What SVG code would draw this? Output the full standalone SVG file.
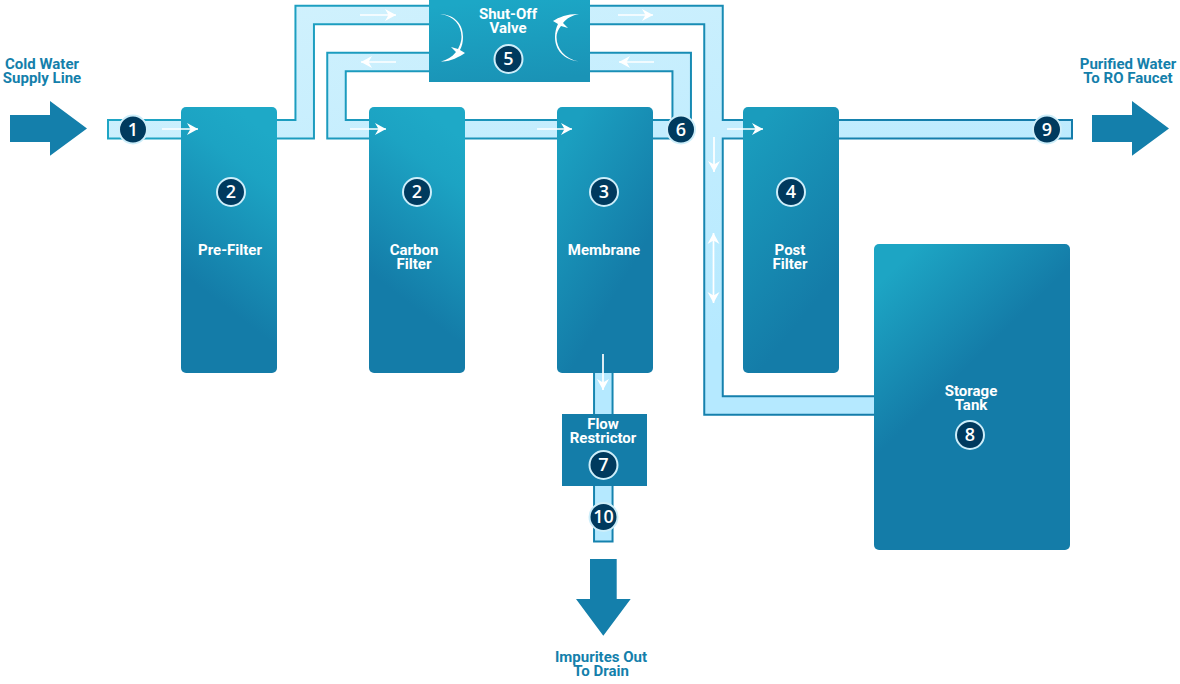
<svg xmlns="http://www.w3.org/2000/svg" width="1180" height="684" viewBox="0 0 1180 684">
<style>
.po{fill:none;stroke:url(#edge);stroke-width:20.5;stroke-linejoin:miter}
.pi{fill:none;stroke:url(#water);stroke-width:16.5;stroke-linejoin:miter}
.lb{font-family:Roboto,"Liberation Sans",sans-serif;font-weight:700;font-size:15px;text-anchor:middle;fill:#fff}
.ext{fill:#147fab}
.bd{fill:#003a5e;stroke:#cdeefa;stroke-width:2}
.hl{fill:#003a5e;stroke:#cdeefa;stroke-width:2}
.nm{font-family:"Open Sans","Liberation Sans",sans-serif;font-weight:600;font-size:18px;text-anchor:middle;fill:#fff}
.fl{fill:none;stroke:#fff;stroke-width:1.7;marker-end:url(#ah)}
</style>
<defs>
<linearGradient id="edge" gradientUnits="userSpaceOnUse" x1="100" y1="0" x2="800" y2="420"><stop offset="0" stop-color="#1fa9c7"/><stop offset="1" stop-color="#147caa"/></linearGradient>
<linearGradient id="water" gradientUnits="userSpaceOnUse" x1="300" y1="0" x2="400" y2="420"><stop offset="0" stop-color="#d0f1fd"/><stop offset="1" stop-color="#b5e9ff"/></linearGradient>
<linearGradient id="g1" x1="0.55" y1="0" x2="0.35" y2="0.72"><stop offset="0" stop-color="#1ea9c7"/><stop offset="0.25" stop-color="#1ca3c3"/><stop offset="1" stop-color="#147ca8"/></linearGradient>
<linearGradient id="g2" x1="0.3" y1="0" x2="0.7" y2="0.65"><stop offset="0" stop-color="#1b9fc0"/><stop offset="1" stop-color="#147ca8"/></linearGradient>
<linearGradient id="g3" x1="0.3" y1="0" x2="0.65" y2="0.78"><stop offset="0" stop-color="#1a9cbd"/><stop offset="1" stop-color="#147ca8"/></linearGradient>
<linearGradient id="g4" x1="0.15" y1="0.05" x2="0.4" y2="0.45"><stop offset="0" stop-color="#1da5c4"/><stop offset="1" stop-color="#147ca8"/></linearGradient>
<linearGradient id="gv" x1="0.4" y1="0" x2="0.6" y2="1"><stop offset="0" stop-color="#1ca7c6"/><stop offset="1" stop-color="#1a93b6"/></linearGradient>
<marker id="ah" markerUnits="userSpaceOnUse" markerWidth="14" markerHeight="14" refX="11" refY="6" orient="auto" overflow="visible"><path d="M0,0 L11,6 L0,12 L3.5,6 Z" fill="#fff"/></marker>
</defs>
<g id="connectors">
<path class="po" d="M107,129.3 H304.7 V15 H430"/>
<path class="po" d="M430,62 H336.5 V129.3 H681.7 V62 H590"/>
<path class="po" d="M590,15 H713.5 V405.5 H875"/>
<path class="po" d="M713.5,129.3 H1073"/>
<path class="po" d="M603.3,373 V542.5"/>
<path class="pi" d="M109,129.3 H304.7 V15 H430"/>
<path class="pi" d="M430,62 H336.5 V129.3 H681.7 V62 H590"/>
<path class="pi" d="M590,15 H713.5 V405.5 H875"/>
<path class="pi" d="M713.5,129.3 H1071"/>
<path class="pi" d="M603.3,373 V540.5"/>
</g>
<g id="ext-in"><path class="ext" d="M10,115 H50 V101 L87,128.6 L50,155.7 V142 H10 Z"/><text class="lb" x="42" y="69" fill="#147fab" style="fill:#147fab">Cold Water</text><text class="lb" x="42" y="83" style="fill:#147fab">Supply Line</text></g>
<g id="ext-out"><path class="ext" d="M1092,115 H1132 V101 L1169,128.6 L1132,155.7 V142 H1092 Z"/><text class="lb" x="1128" y="69" style="fill:#147fab">Purified Water</text><text class="lb" x="1128" y="83" style="fill:#147fab">To RO Faucet</text></g>
<g id="ext-drain"><path class="ext" d="M590,559 H616.7 V599 H630.7 L603.3,635.7 L576,599 H590 Z"/><text class="lb" x="601" y="662" style="fill:#147fab">Impurites Out</text><text class="lb" x="601" y="676" style="fill:#147fab">To Drain</text></g>
<g id="pre-filter"><rect x="181" y="107" width="96" height="266" rx="5" fill="url(#g1)"/><text class="lb" x="230" y="255">Pre-Filter</text><circle class="bd" cx="231" cy="192" r="14"/><text class="nm" x="231" y="198">2</text></g>
<g id="carbon-filter"><rect x="369" y="107" width="96" height="266" rx="5" fill="url(#g1)"/><text class="lb" x="414" y="255">Carbon</text><text class="lb" x="414" y="269">Filter</text><circle class="bd" cx="417" cy="192" r="14"/><text class="nm" x="417" y="198">2</text></g>
<g id="membrane"><rect x="557" y="107" width="96" height="266" rx="5" fill="url(#g2)"/><text class="lb" x="604" y="255">Membrane</text><circle class="bd" cx="604" cy="192" r="14"/><text class="nm" x="604" y="198">3</text></g>
<g id="post-filter"><rect x="743" y="107" width="96" height="266" rx="5" fill="url(#g3)"/><text class="lb" x="790" y="255">Post</text><text class="lb" x="790" y="269">Filter</text><circle class="bd" cx="791" cy="192" r="14"/><text class="nm" x="791" y="198">4</text></g>
<g id="storage-tank"><rect x="874" y="244" width="196" height="306" rx="5" fill="url(#g4)"/><text class="lb" x="971" y="396">Storage</text><text class="lb" x="971" y="410">Tank</text><circle class="bd" cx="970" cy="435" r="14"/><text class="nm" x="970" y="441">8</text></g>
<g id="shut-off-valve"><rect x="429" y="0" width="161" height="82" fill="url(#gv)"/><text class="lb" x="508" y="19">Shut-Off</text><text class="lb" x="508" y="33">Valve</text><circle class="bd" cx="508.500" cy="59" r="14"/><text class="nm" x="508.500" y="65">5</text>
<path d="M440,14 C456,15 463,25 463,37 C463,42 462,46 460,50 L465,53 C459,57 450,62 441,61.500 C447,60 452,57 456,52 L451,47 L458,49 C460,45 461.500,41 461.500,37 C461.500,25 454,16 440,14 Z" fill="#fff"/>
<path d="M579,61.500 C564,60 555,50 555,37 C555,32 556,28 558,24 L553,21 C559,17 569,13.500 579,14 C572,15.500 567,18 563,23 L568,28 L561,26 C558,30 556.500,33 556.500,37 C556.500,49 565,59 579,61.500 Z" fill="#fff"/></g>
<g id="flow-restrictor"><rect x="562" y="414" width="85" height="72" fill="#147da9"/><text class="lb" x="603" y="429">Flow</text><text class="lb" x="603" y="443">Restrictor</text><circle class="bd" cx="603.500" cy="465" r="14"/><text class="nm" x="603.500" y="471">7</text></g>
<g id="badge-1"><circle class="hl" cx="133" cy="129.500" r="14"/><text class="nm" x="133" y="135.500">1</text></g>
<g id="badge-6"><circle class="hl" cx="681" cy="129.500" r="14"/><text class="nm" x="681" y="135.500">6</text></g>
<g id="badge-9"><circle class="hl" cx="1047" cy="129.500" r="14"/><text class="nm" x="1047" y="135.500">9</text></g>
<g id="badge-10"><circle class="hl" cx="603.500" cy="517" r="14"/><text class="nm" x="603.500" y="523">10</text></g>
<g id="flow-arrows">
<path class="fl" d="M162,129 H198"/>
<path class="fl" d="M350,129 H386"/>
<path class="fl" d="M537,129 H572"/>
<path class="fl" d="M727,129 H763"/>
<path class="fl" d="M360,15 H396"/>
<path class="fl" d="M396,62 H361"/>
<path class="fl" d="M618,15 H653"/>
<path class="fl" d="M654,62 H619"/>
<path class="fl" d="M714,137 V172"/>
<path class="fl" d="M713.500,268 V233"/>
<path class="fl" d="M713.500,268 V303"/>
<path class="fl" d="M603,354 V390"/>
</g>
</svg>
